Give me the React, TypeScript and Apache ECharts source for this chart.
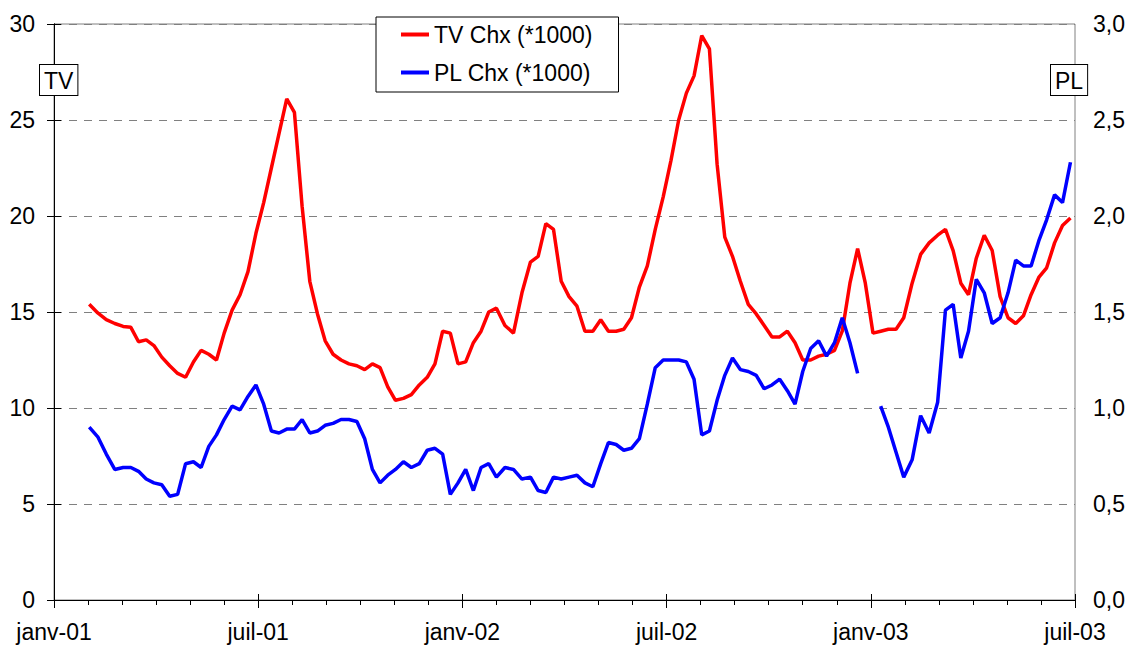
import React, { useEffect, useRef } from "react";
import * as echarts from "echarts";

// Weekly observations starting on this date
const START_DATE = "2001-02-02";
const STEP_DAYS = 7;

const SERIES_TV = "TV Chx (*1000)";
const SERIES_PL = "PL Chx (*1000)";

// TV values (left axis)
const tvValues: number[] = [
  15.4, 14.95, 14.6, 14.4, 14.25, 14.2, 13.45, 13.55, 13.25, 12.65, 12.2, 11.8, 11.6, 12.4, 13.0,
  12.8, 12.5, 13.9, 15.1, 15.9, 17.1, 19.1, 20.7, 22.5, 24.3, 26.1, 25.4, 20.5, 16.6, 14.9, 13.5,
  12.8, 12.5, 12.3, 12.2, 12.0, 12.3, 12.1, 11.1, 10.4, 10.5, 10.7, 11.2, 11.6, 12.3, 14.0, 13.9,
  12.3, 12.4, 13.4, 14.0, 15.0, 15.2, 14.3, 13.9, 16.0, 17.6, 17.9, 19.6, 19.3, 16.6, 15.8, 15.3,
  14.0, 14.0, 14.6, 14.0, 14.0, 14.1, 14.7, 16.3, 17.4, 19.3, 21.0, 22.9, 25.0, 26.4, 27.3, 29.4,
  28.7, 22.7, 18.9, 17.9, 16.6, 15.4, 14.9, 14.3, 13.7, 13.7, 14.0, 13.4, 12.5, 12.5, 12.7, 12.8,
  13.0, 14.0, 16.5, 18.3, 16.5, 13.9, 14.0, 14.1, 14.1, 14.7, 16.5, 18.0, 18.6, 19.0, 19.3, 18.2,
  16.5, 15.9, 17.8, 19.0, 18.2, 15.8, 14.7, 14.4, 14.8, 15.9, 16.8, 17.3, 18.6, 19.5, 19.9,
];

// PL values (right axis), null = missing
const plValues: (number | null)[] = [
  0.9, 0.85, 0.76, 0.68, 0.69, 0.69, 0.67, 0.63, 0.61, 0.6, 0.54, 0.55, 0.71, 0.72, 0.69,
  0.8, 0.86, 0.94, 1.01, 0.99, 1.06, 1.12, 1.02, 0.88, 0.87, 0.89, 0.89, 0.94, 0.87, 0.88, 0.91,
  0.92, 0.94, 0.94, 0.93, 0.84, 0.68, 0.61, 0.65, 0.68, 0.72, 0.69, 0.71, 0.78, 0.79, 0.76, 0.55,
  0.61, 0.68, 0.57, 0.69, 0.71, 0.64, 0.69, 0.68, 0.63, 0.64, 0.57, 0.56, 0.64, 0.63, 0.64, 0.65,
  0.61, 0.59, 0.71, 0.82, 0.81, 0.78, 0.79, 0.84, 1.02, 1.21, 1.25, 1.25, 1.25, 1.24, 1.15, 0.86,
  0.88, 1.04, 1.17, 1.26, 1.2, 1.19, 1.17, 1.1, 1.12, 1.15, 1.09, 1.02, 1.19, 1.31, 1.35, 1.27,
  1.34, 1.47, 1.34, 1.18, null, null, 1.01, 0.9, 0.77, 0.64, 0.73, 0.96, 0.87, 1.03, 1.51, 1.54,
  1.26, 1.4, 1.67, 1.6, 1.44, 1.47, 1.6, 1.77, 1.74, 1.74, 1.87, 1.98, 2.11, 2.07, 2.28,
];

// x axis: months since January 2001
const X_MIN_MONTH = 0;
const X_MAX_MONTH = 30;
const MONTH_NAMES = ["janv", "févr", "mars", "avr", "mai", "juin", "juil", "août", "sept", "oct", "nov", "déc"];

const FONT = "'Liberation Sans', Arial, sans-serif";
const FONT_SIZE = 23;

function dateToMonth(d: Date): number {
  const y = d.getUTCFullYear();
  const m = d.getUTCMonth();
  const day = d.getUTCDate();
  const dim = new Date(Date.UTC(y, m + 1, 0)).getUTCDate();
  return (y - 2001) * 12 + m + (day - 1) / dim;
}

function buildData(values: (number | null)[]): (number | null)[][] {
  const start = new Date(START_DATE + "T00:00:00Z").getTime();
  return values.map((v, i) => {
    const d = new Date(start + i * STEP_DAYS * 86400000);
    return [dateToMonth(d), v];
  });
}

export default function App() {
  const ref = useRef<HTMLDivElement>(null);

  useEffect(() => {
    document.body.style.margin = "0";
    if (!ref.current) return;
    const chart = echarts.init(ref.current, undefined, { renderer: "svg" });

    const monthLabel = (v: number) => {
      const m = Math.round(v);
      const yy = 1 + Math.floor(m / 12);
      return `${MONTH_NAMES[m % 12]}-${String(yy).padStart(2, "0")}`;
    };

    chart.setOption({
      animation: false,
      backgroundColor: "#ffffff",
      textStyle: { fontFamily: FONT },
      grid: {
        left: 54,
        right: 54,
        top: 24,
        bottom: 46,
        show: true,
        borderColor: "#808080",
        borderWidth: 1,
        backgroundColor: "transparent",
      },
      legend: {
        orient: "vertical",
        left: 376,
        top: 17,
        padding: [6, 26, 8, 25],
        itemGap: 15,
        itemWidth: 28,
        itemHeight: 4,
        icon: "rect",
        backgroundColor: "#ffffff",
        borderColor: "#000000",
        borderWidth: 1,
        textStyle: { fontFamily: FONT, fontSize: FONT_SIZE, color: "#000" },
        data: [SERIES_TV, SERIES_PL],
      },
      xAxis: [
        {
          type: "value",
          min: X_MIN_MONTH,
          max: X_MAX_MONTH,
          interval: 6,
          axisLine: { show: true, onZero: false, lineStyle: { color: "#000", width: 1 } },
          axisTick: { show: true, length: 8, lineStyle: { color: "#000" } },
          minorTick: { show: true, splitNumber: 6, length: 5, lineStyle: { color: "#000" } },
          splitLine: { show: false },
          minorSplitLine: { show: false },
          axisLabel: {
            formatter: monthLabel,
            fontSize: FONT_SIZE,
            color: "#000",
            fontFamily: FONT,
            margin: 20,
            showMinLabel: true,
            showMaxLabel: true,
          },
        },
        {
          type: "value",
          min: X_MIN_MONTH,
          max: X_MAX_MONTH,
          interval: 6,
          position: "bottom",
          axisLine: { show: false },
          axisTick: { show: true, inside: true, length: 6, lineStyle: { color: "#000" } },
          axisLabel: { show: false },
          splitLine: { show: false },
        },
      ],
      yAxis: [
        {
          type: "value",
          min: 0,
          max: 30,
          interval: 5,
          position: "left",
          axisLine: { show: true, lineStyle: { color: "#000" } },
          axisTick: { show: true, length: 7, lineStyle: { color: "#000" } },
          splitLine: { show: true, lineStyle: { color: "#808080", type: [8, 7], width: 1 } },
          axisLabel: { fontSize: FONT_SIZE, color: "#000", fontFamily: FONT, margin: 19 },
        },
        {
          type: "value",
          min: 0,
          max: 3,
          interval: 0.5,
          position: "right",
          axisLine: { show: true, lineStyle: { color: "#000" } },
          axisTick: { show: true, length: 7, lineStyle: { color: "#000" } },
          splitLine: { show: false },
          axisLabel: {
            fontSize: FONT_SIZE,
            color: "#000",
            fontFamily: FONT,
            margin: 18,
            formatter: (v: number) => v.toFixed(1).replace(".", ","),
          },
        },
      ],
      graphic: [
        {
          type: "text",
          left: 39,
          top: 64,
          z: 100,
          style: {
            text: "TV",
            font: `${FONT_SIZE}px ${FONT}`,
            fill: "#000",
            backgroundColor: "#fff",
            borderColor: "#000",
            borderWidth: 1,
            padding: [4, 4, 3, 4],
          },
        },
        {
          type: "text",
          left: 1050,
          top: 64,
          z: 100,
          style: {
            text: "PL",
            font: `${FONT_SIZE}px ${FONT}`,
            fill: "#000",
            backgroundColor: "#fff",
            borderColor: "#000",
            borderWidth: 1,
            padding: [4, 4, 3, 4],
          },
        },
      ],
      series: [
        {
          name: SERIES_TV,
          type: "line",
          xAxisIndex: 0,
          yAxisIndex: 0,
          data: buildData(tvValues),
          showSymbol: false,
          symbol: "none",
          lineStyle: { color: "#ff0000", width: 3.5 },
          itemStyle: { color: "#ff0000" },
        },
        {
          name: SERIES_PL,
          type: "line",
          xAxisIndex: 0,
          yAxisIndex: 1,
          data: buildData(plValues),
          showSymbol: false,
          symbol: "none",
          connectNulls: false,
          lineStyle: { color: "#0000ff", width: 3.5 },
          itemStyle: { color: "#0000ff" },
        },
      ],
    });

    return () => chart.dispose();
  }, []);

  return <div ref={ref} style={{ width: 1129, height: 646 }} />;
}
